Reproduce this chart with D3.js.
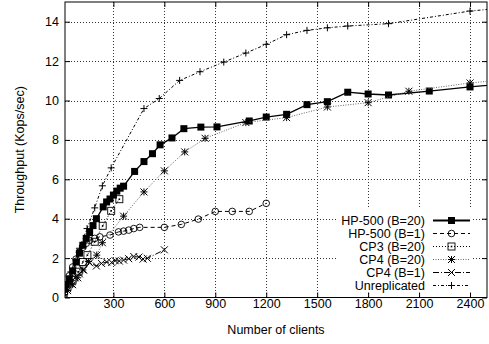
<!DOCTYPE html>
<html><head><meta charset="utf-8">
<script src="https://cdn.jsdelivr.net/npm/d3@7"></script>
<style>body{margin:0;background:#fff}svg{display:block}text{font-family:"Liberation Sans",Arial,sans-serif;fill:#000}</style>
</head><body><svg id="c" width="489" height="344"></svg>
<script>
const xTicks = [300, 600, 900, 1200, 1500, 1800, 2100, 2400];
const yTicks = [0, 2, 4, 6, 8, 10, 12, 14];
const seriesNames = ["HP-500 (B=20)", "HP-500 (B=1)", "CP3 (B=20)", "CP4 (B=20)", "CP4 (B=1)", "Unreplicated"];

const hp20Clients = [10, 20, 40, 60, 80, 100, 120, 140, 160, 180, 200, 240, 260, 280, 300, 320, 340, 360, 425, 480, 530, 575, 645, 715, 815, 910, 1100, 1200, 1320, 1440, 1560, 1680, 1800, 1920, 2160, 2400, 2600];
const hp20Tput = [0.45, 0.65, 0.95, 1.35, 1.8, 2.25, 2.65, 3.0, 3.3, 3.65, 4.0, 4.6, 4.85, 5.0, 5.2, 5.4, 5.55, 5.65, 6.4, 6.9, 7.3, 7.75, 8.1, 8.57, 8.65, 8.66, 8.96, 9.16, 9.3, 9.79, 9.94, 10.42, 10.33, 10.28, 10.48, 10.69, 10.85];

const hp1Clients = [10, 20, 40, 60, 80, 100, 120, 140, 160, 190, 220, 280, 330, 360, 390, 420, 455, 600, 700, 800, 900, 1000, 1100, 1200];
const hp1Tput = [0.4, 0.65, 1.1, 1.55, 1.95, 2.3, 2.55, 2.75, 2.9, 3.0, 3.08, 3.17, 3.33, 3.37, 3.42, 3.5, 3.56, 3.56, 3.71, 3.98, 4.37, 4.37, 4.37, 4.78];

const cp3Clients = [10, 30, 60, 95, 120, 147, 190, 237, 287, 335];
const cp3Tput = [0.3, 0.55, 0.9, 1.31, 1.8, 2.15, 2.83, 3.64, 4.4, 4.99];

const cp420Clients = [10, 30, 60, 90, 120, 153, 202, 235, 360, 480, 600, 720, 840, 1080, 1320, 1560, 1800, 2040, 2400, 2600];
const cp420Tput = [0.15, 0.35, 0.65, 1.0, 1.4, 1.83, 2.15, 2.78, 4.13, 5.36, 6.43, 7.39, 8.08, 8.88, 9.13, 9.67, 9.89, 10.47, 10.89, 11.05];

const cp41Clients = [10, 30, 50, 75, 100, 125, 160, 200, 230, 260, 290, 310, 335, 360, 390, 420, 450, 475, 500, 600];
const cp41Tput = [0.2, 0.45, 0.7, 1.0, 1.2, 1.4, 1.76, 1.6, 1.73, 1.8, 1.78, 1.87, 1.85, 1.9, 1.97, 2.08, 2.05, 1.95, 1.99, 2.42];

const unrepClients = [10, 50, 100, 145, 190, 235, 287, 480, 570, 690, 810, 950, 1080, 1200, 1320, 1440, 1560, 1680, 1920, 2400, 2600];
const unrepTput = [0.45, 1.3, 2.5, 3.5, 4.55, 5.67, 6.58, 9.59, 10.1, 11.02, 11.46, 11.95, 12.41, 12.85, 13.34, 13.56, 13.69, 13.78, 13.9, 14.54, 14.7];

const L = 65, R = 487, T = 2, B = 297.5;
const x = d3.scaleLinear().domain([15, 2500]).range([L, R]);
const y = d3.scaleLinear().domain([0, 15]).range([B, T]);
const svg = d3.select("#c");

svg.append("defs").append("clipPath").attr("id", "clip")
  .append("rect").attr("x", L).attr("y", T).attr("width", R - L).attr("height", B - T);

// grid
const grid = svg.append("g").attr("stroke", "#333").attr("stroke-width", 1).attr("stroke-dasharray", "1,2");
grid.selectAll(".gx").data(xTicks).join("line")
  .attr("x1", d => Math.round(x(d)) + 0.5).attr("x2", d => Math.round(x(d)) + 0.5).attr("y1", T).attr("y2", B);
grid.selectAll(".gy").data(yTicks.filter(d => d > 0)).join("line")
  .attr("y1", d => Math.round(y(d)) + 0.5).attr("y2", d => Math.round(y(d)) + 0.5).attr("x1", L).attr("x2", R);

// axes
const fmt = d3.format("d");
const ax = svg.append("g");
ax.append("g").attr("transform", `translate(0,${B})`)
  .call(d3.axisBottom(x).tickValues(xTicks).tickFormat(fmt).tickSizeInner(-5).tickSizeOuter(0).tickPadding(2));
ax.append("g").attr("transform", `translate(0,${T})`)
  .call(d3.axisTop(x).tickValues(xTicks).tickSizeInner(-5).tickSizeOuter(0).tickFormat(""));
ax.append("g").attr("transform", `translate(${L},0)`)
  .call(d3.axisLeft(y).tickValues(yTicks).tickFormat(fmt).tickSizeInner(-5).tickSizeOuter(0).tickPadding(6));
ax.append("g").attr("transform", `translate(${R},0)`)
  .call(d3.axisRight(y).tickValues(yTicks).tickSizeInner(-5).tickSizeOuter(0).tickFormat(""));
ax.selectAll(".domain").remove();
ax.selectAll(".tick line").attr("stroke", "#000");
ax.selectAll("text").style("font-size", "12.5px").style("font-family", "Liberation Sans, Arial, sans-serif").attr("fill", "#000");

svg.append("rect").attr("x", L).attr("y", T).attr("width", R - L).attr("height", B - T)
  .attr("fill", "none").attr("stroke", "#000").attr("stroke-width", 1);

svg.append("text").attr("x", (L + R) / 2).attr("y", 334).attr("text-anchor", "middle")
  .style("font-size", "12.5px").text("Number of clients");
svg.append("text").attr("transform", `translate(24,${(T + B) / 2}) rotate(-90)`).attr("text-anchor", "middle")
  .style("font-size", "12.5px").text("Throughput (Kops/sec)");

// symbols
function marker(g, type, cx, cy) {
  const s = 3.5;
  if (type === "fsq") g.append("rect").attr("x", cx - s).attr("y", cy - s).attr("width", 2 * s).attr("height", 2 * s).attr("fill", "#000");
  else if (type === "circ") g.append("circle").attr("cx", cx).attr("cy", cy).attr("r", 3.3).attr("fill", "none").attr("stroke", "#000").attr("stroke-width", 0.9);
  else if (type === "osq") {
    g.append("rect").attr("x", cx - s).attr("y", cy - s).attr("width", 2 * s).attr("height", 2 * s).attr("fill", "none").attr("stroke", "#000").attr("stroke-width", 0.9);
    g.append("rect").attr("x", cx - 0.8).attr("y", cy - 0.8).attr("width", 1.6).attr("height", 1.6).attr("fill", "#000");
  } else if (type === "star") {
    g.append("path").attr("d", `M${cx - s},${cy}H${cx + s}M${cx},${cy - s}V${cy + s}M${cx - s},${cy - s}L${cx + s},${cy + s}M${cx - s},${cy + s}L${cx + s},${cy - s}`).attr("stroke", "#000").attr("stroke-width", 1);
  } else if (type === "x") {
    g.append("path").attr("d", `M${cx - s},${cy - s}L${cx + s},${cy + s}M${cx - s},${cy + s}L${cx + s},${cy - s}`).attr("stroke", "#000").attr("stroke-width", 1);
  } else if (type === "plus") {
    g.append("path").attr("d", `M${cx - s},${cy}H${cx + s}M${cx},${cy - s}V${cy + s}`).attr("stroke", "#000").attr("stroke-width", 1);
  }
}

const series = [
  {name: seriesNames[0], xs: hp20Clients, ys: hp20Tput, dash: null, color: "#000", w: 1.3, m: "fsq"},
  {name: seriesNames[1], xs: hp1Clients, ys: hp1Tput, dash: "4,3", color: "#000", w: 1, m: "circ"},
  {name: seriesNames[2], xs: cp3Clients, ys: cp3Tput, dash: "1,2", color: "#000", w: 1, m: "osq"},
  {name: seriesNames[3], xs: cp420Clients, ys: cp420Tput, dash: "1,1.5", color: "#666", w: 1, m: "star"},
  {name: seriesNames[4], xs: cp41Clients, ys: cp41Tput, dash: "6,2,1,2", color: "#000", w: 1, m: "x"},
  {name: seriesNames[5], xs: unrepClients, ys: unrepTput, dash: "3,2,1,2", color: "#000", w: 1, m: "plus"}
];

const plot = svg.append("g").attr("clip-path", "url(#clip)");
const line = d3.line().x(d => x(d[0])).y(d => y(d[1]));
series.forEach(s => {
  const pts = s.xs.map((v, i) => [v, s.ys[i]]);
  plot.append("path").datum(pts).attr("d", line).attr("fill", "none")
    .attr("stroke", s.color).attr("stroke-width", s.w).attr("stroke-dasharray", s.dash);
  const mg = plot.append("g");
  pts.forEach(p => marker(mg, s.m, x(p[0]), y(p[1])));
});

// legend
const lg = svg.append("g");
lg.append("rect").attr("x", 336).attr("y", 208).attr("width", 136).attr("height", 84).attr("fill", "#fff");
series.forEach((s, i) => {
  const ly = 220.5 + i * 13;
  lg.append("text").attr("x", 425).attr("y", ly + 4.5).attr("text-anchor", "end").style("font-size", "12.5px").text(s.name);
  lg.append("line").attr("x1", 433).attr("x2", 470).attr("y1", ly).attr("y2", ly)
    .attr("stroke", s.color).attr("stroke-width", i === 0 ? 2 : s.w).attr("stroke-dasharray", s.dash);
  marker(lg, s.m, 451.5, ly);
});
</script></body></html>
